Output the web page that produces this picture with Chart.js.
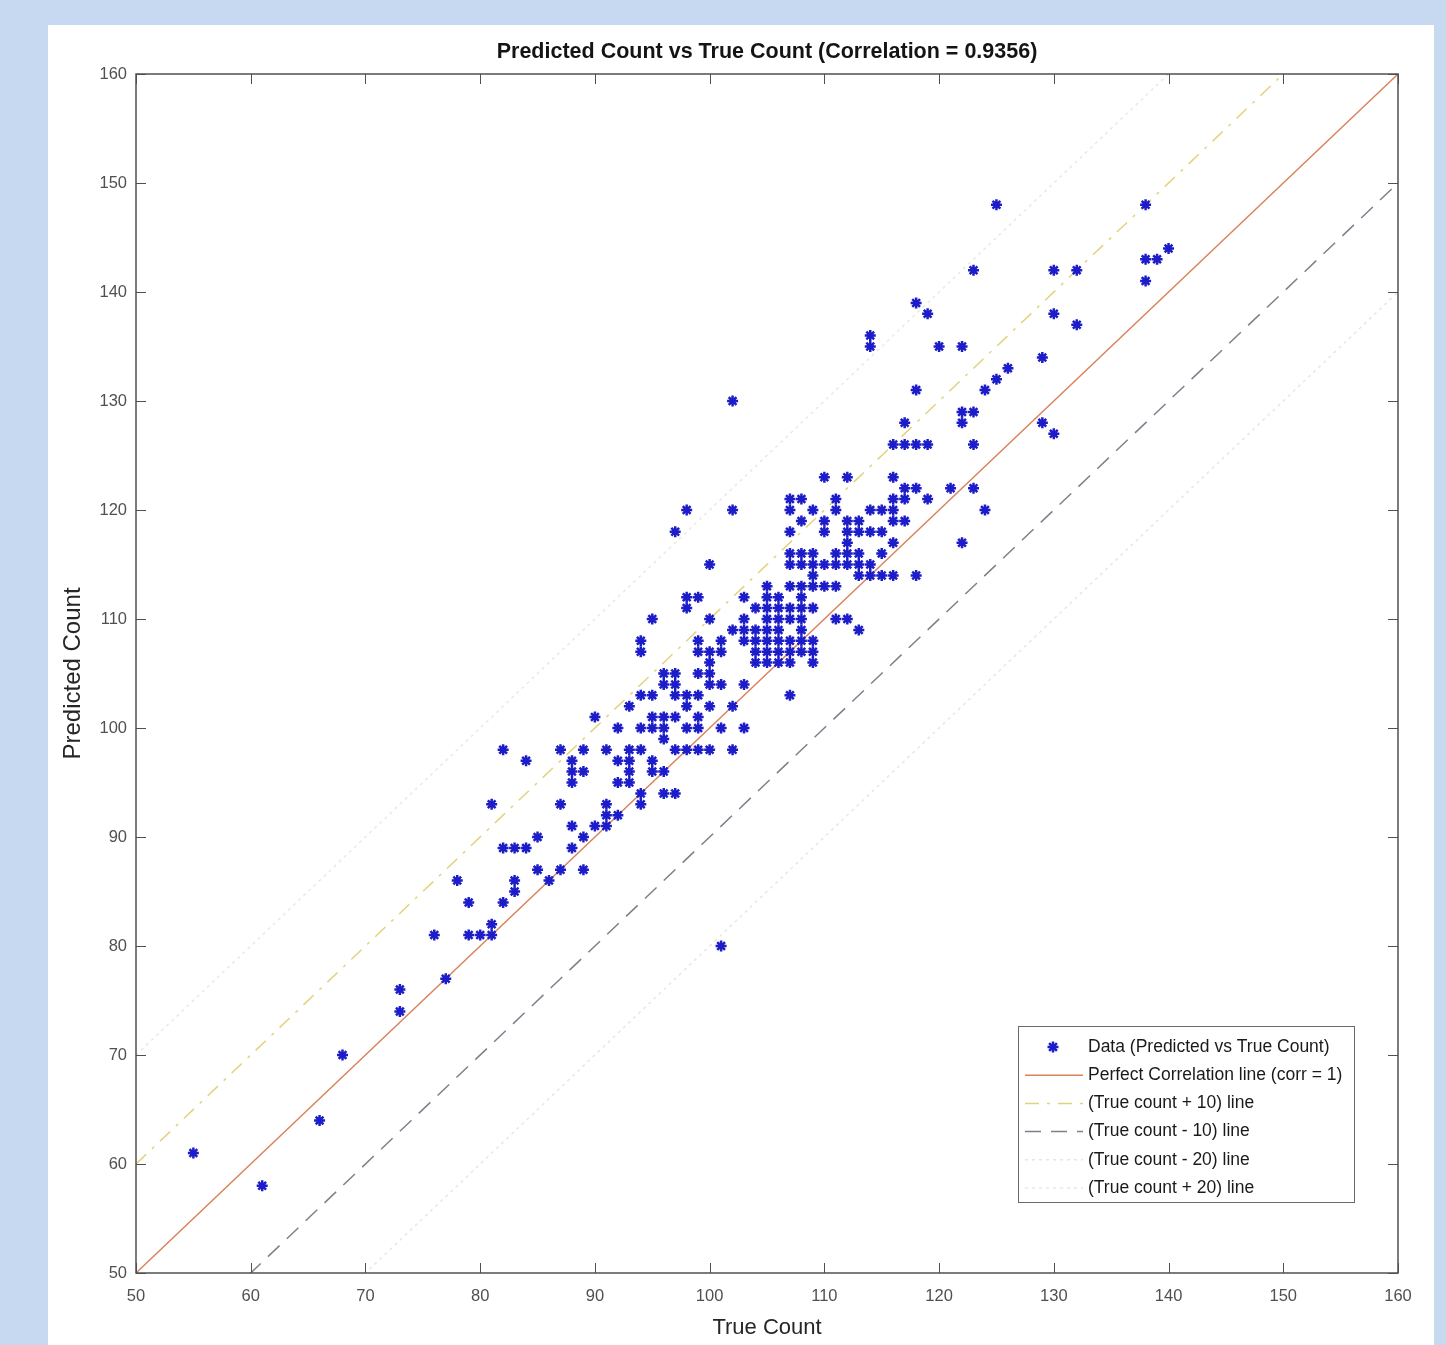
<!DOCTYPE html>
<html>
<head>
<meta charset="utf-8">
<title>Predicted vs True Count</title>
<script src="https://cdn.jsdelivr.net/npm/chart.js@4.4.1/dist/chart.umd.min.js"></script>
<style>
  html, body { margin: 0; padding: 0; background: #c6d9f1; }
  body { width: 1446px; height: 1345px; position: relative; overflow: hidden; }
  #panel { position: absolute; left: 48px; top: 25px; width: 1386px; height: 1320px; background: #fff; }
  #panel canvas { display: block; }
</style>
</head>
<body>
<div id="panel"><canvas id="scatter" width="1386" height="1320"></canvas></div>
<script>
// one line per true-count value, same line in both arrays
const trueCount = [
  55,
  61,
  66,
  68,
  73, 73,
  76,
  77,
  78,
  79, 79,
  80,
  81, 81, 81,
  82, 82, 82,
  83, 83, 83,
  84, 84,
  85, 85,
  86,
  87, 87, 87,
  88, 88, 88, 88, 88,
  89, 89, 89, 89,
  90, 90,
  91, 91, 91, 91,
  92, 92, 92, 92,
  93, 93, 93, 93, 93,
  94, 94, 94, 94, 94, 94, 94,
  95, 95, 95, 95, 95, 95,
  96, 96, 96, 96, 96, 96, 96,
  97, 97, 97, 97, 97, 97, 97,
  98, 98, 98, 98, 98, 98, 98,
  99, 99, 99, 99, 99, 99, 99, 99,
  100, 100, 100, 100, 100, 100, 100, 100,
  101, 101, 101, 101, 101,
  102, 102, 102, 102, 102,
  103, 103, 103, 103, 103, 103,
  104, 104, 104, 104, 104,
  105, 105, 105, 105, 105, 105, 105, 105,
  106, 106, 106, 106, 106, 106, 106,
  107, 107, 107, 107, 107, 107, 107, 107, 107, 107, 107, 107,
  108, 108, 108, 108, 108, 108, 108, 108, 108, 108, 108,
  109, 109, 109, 109, 109, 109, 109, 109, 109,
  110, 110, 110, 110, 110,
  111, 111, 111, 111, 111, 111,
  112, 112, 112, 112, 112, 112, 112,
  113, 113, 113, 113, 113, 113,
  114, 114, 114, 114, 114, 114,
  115, 115, 115, 115,
  116, 116, 116, 116, 116, 116, 116,
  117, 117, 117, 117, 117,
  118, 118, 118, 118, 118,
  119, 119, 119,
  120,
  121,
  122, 122, 122, 122,
  123, 123, 123, 123,
  124, 124,
  125, 125,
  126,
  129, 129,
  130, 130, 130,
  132, 132,
  138, 138, 138,
  139,
  140
];

const predictedCount = [
  61,
  58,
  64,
  70,
  76, 74,
  81,
  77,
  86,
  84, 81,
  81,
  81, 82, 93,
  98, 89, 84,
  89, 86, 85,
  97, 89,
  90, 87,
  86,
  98, 93, 87,
  97, 96, 95, 91, 89,
  98, 96, 90, 87,
  101, 91,
  98, 93, 92, 91,
  100, 97, 95, 92,
  102, 98, 97, 96, 95,
  108, 107, 103, 100, 98, 94, 93,
  110, 103, 101, 100, 97, 96,
  105, 104, 101, 100, 99, 96, 94,
  118, 105, 104, 103, 101, 98, 94,
  120, 112, 111, 103, 102, 100, 98,
  112, 108, 107, 105, 103, 101, 100, 98,
  115, 110, 107, 106, 105, 104, 102, 98,
  108, 107, 104, 100, 80,
  130, 120, 109, 102, 98,
  112, 110, 109, 108, 104, 100,
  111, 109, 108, 107, 106,
  113, 112, 111, 110, 109, 108, 107, 106,
  112, 111, 110, 109, 108, 107, 106,
  121, 120, 118, 116, 115, 113, 111, 110, 108, 107, 106, 103,
  121, 119, 116, 115, 113, 112, 111, 110, 109, 108, 107,
  120, 116, 115, 114, 113, 111, 108, 107, 106,
  123, 119, 118, 115, 113,
  121, 120, 116, 115, 113, 110,
  123, 119, 118, 117, 116, 115, 110,
  119, 118, 116, 115, 114, 109,
  136, 135, 120, 118, 115, 114,
  120, 118, 116, 114,
  126, 123, 121, 120, 119, 117, 114,
  128, 126, 122, 121, 119,
  139, 131, 126, 122, 114,
  138, 126, 121,
  135,
  122,
  135, 129, 128, 117,
  142, 129, 126, 122,
  131, 120,
  148, 132,
  133,
  134, 128,
  142, 138, 127,
  142, 137,
  148, 143, 141,
  143,
  144
];

const axisTicks = [50, 60, 70, 80, 90, 100, 110, 120, 130, 140, 150, 160];
const refLineX = [50, 160];
const refOffsets = [0, 10, -10, -20, 20];
const refLabels = [
  'Perfect Correlation line (corr = 1)',
  '(True count + 10) line',
  '(True count - 10) line',
  '(True count - 20) line',
  '(True count + 20) line'
];
const refColors = ['#d9825b', '#e3d27c', '#7f7f8c', '#ece4e4', '#e6ebe2'];
const refDashes = [[], [14, 8, 3, 8], [16, 10], [3, 4], [3, 4]];

const FONT = "'Liberation Sans', Arial, sans-serif";

const points = trueCount.map((t, i) => ({ x: t, y: predictedCount[i] }));

const refSets = refOffsets.map((off, i) => ({
  type: 'line',
  label: refLabels[i],
  data: refLineX.map(x => ({ x, y: x + off })),
  borderColor: refColors[i],
  borderWidth: i === 0 ? 1.4 : 1.5,
  borderDash: refDashes[i],
  pointRadius: 0,
  showLine: true,
  fill: false,
  tension: 0
}));

function setTicks(scale) {
  scale.ticks = axisTicks.map(v => ({ value: v }));
}

const frameTicks = {
  id: 'frameTicks',
  afterDatasetsDraw(chart) {
    const { ctx, chartArea: a, scales: { x, y } } = chart;
    ctx.save();
    ctx.strokeStyle = '#505050';
    ctx.lineWidth = 1.5;
    ctx.strokeRect(a.left, a.top, a.right - a.left, a.bottom - a.top);
    ctx.lineWidth = 1;
    const len = 10;
    ctx.beginPath();
    x.ticks.forEach(t => {
      const px = Math.round(x.getPixelForValue(t.value)) + 0.5;
      ctx.moveTo(px, a.bottom); ctx.lineTo(px, a.bottom - len);
      ctx.moveTo(px, a.top); ctx.lineTo(px, a.top + len);
    });
    y.ticks.forEach(t => {
      const py = Math.round(y.getPixelForValue(t.value)) + 0.5;
      ctx.moveTo(a.left, py); ctx.lineTo(a.left + len, py);
      ctx.moveTo(a.right, py); ctx.lineTo(a.right - len, py);
    });
    ctx.stroke();
    ctx.restore();
  }
};

// matlab-style legend box in the lower right of the plot
const boxLegend = {
  id: 'boxLegend',
  afterDraw(chart) {
    const { ctx, chartArea: a } = chart;
    const w = 336, h = 176;
    const left = a.right - 44 - w;
    const top = a.bottom - 71 - h;
    const rowH = 28.2;
    ctx.save();
    ctx.fillStyle = '#fff';
    ctx.fillRect(left, top, w, h);
    ctx.strokeStyle = '#6a6a6a';
    ctx.lineWidth = 1;
    ctx.strokeRect(left + 0.5, top + 0.5, w, h);
    ctx.font = '17.5px ' + FONT;
    ctx.textBaseline = 'middle';
    chart.data.datasets.forEach((ds, i) => {
      const cy = top + 21 + i * rowH;
      if (ds.type === 'line') {
        ctx.strokeStyle = ds.borderColor;
        ctx.lineWidth = 1.5;
        ctx.setLineDash(ds.borderDash || []);
        ctx.beginPath();
        ctx.moveTo(left + 7, cy);
        ctx.lineTo(left + 65, cy);
        ctx.stroke();
        ctx.setLineDash([]);
      } else {
        ctx.strokeStyle = ds.borderColor;
        ctx.lineWidth = ds.borderWidth;
        Chart.helpers.drawPoint(ctx, { pointStyle: 'star', radius: ds.pointRadius, rotation: 0, borderWidth: ds.borderWidth }, left + 35, cy);
      }
      ctx.fillStyle = '#1a1a1a';
      ctx.fillText(ds.label, left + 70, cy);
    });
    ctx.restore();
  }
};

new Chart(document.getElementById('scatter'), {
  type: 'scatter',
  data: {
    datasets: [
      {
        label: 'Data (Predicted vs True Count)',
        data: points,
        pointStyle: 'star',
        pointRadius: 5.5,
        pointHoverRadius: 5.5,
        borderColor: '#1c1cc8',
        backgroundColor: '#1c1cc8',
        borderWidth: 2.5
      },
      ...refSets
    ]
  },
  options: {
    responsive: false,
    animation: false,
    layout: { padding: { left: 0, right: 36, top: 0, bottom: 0 } },
    plugins: {
      legend: { display: false },
      tooltip: { enabled: false }
    },
    scales: {
      // top axis only carries the plot title, so it is centred over the axes box
      top: {
        type: 'linear',
        position: 'top',
        min: 50,
        max: 160,
        afterFit: s => { s.height = 49; },
        grid: { display: false, drawTicks: false },
        border: { display: false },
        ticks: { display: false },
        title: {
          display: true,
          text: 'Predicted Count vs True Count (Correlation = 0.9356)',
          color: '#141414',
          font: { family: FONT, size: 21.5, weight: 'bold' },
          padding: { top: 14, bottom: 0 }
        }
      },
      x: {
        type: 'linear',
        min: 50,
        max: 160,
        afterBuildTicks: setTicks,
        afterFit: s => { s.height = 72; },
        grid: { display: false, drawTicks: false },
        border: { display: false },
        ticks: { color: '#505050', font: { family: FONT, size: 16.5 }, padding: 14, maxRotation: 0 },
        title: {
          display: true,
          text: 'True Count',
          color: '#262626',
          font: { family: FONT, size: 22 },
          padding: { top: 0, bottom: 4 }
        }
      },
      y: {
        type: 'linear',
        min: 50,
        max: 160,
        afterBuildTicks: setTicks,
        afterFit: s => { s.width = 88; },
        grid: { display: false, drawTicks: false },
        border: { display: false },
        ticks: { color: '#505050', font: { family: FONT, size: 16.5 }, padding: 9 },
        title: {
          display: true,
          text: 'Predicted Count',
          color: '#262626',
          font: { family: FONT, size: 24 },
          padding: { top: 10.6, bottom: 0 }
        }
      }
    }
  },
  plugins: [frameTicks, boxLegend]
});
</script>
</body>
</html>
